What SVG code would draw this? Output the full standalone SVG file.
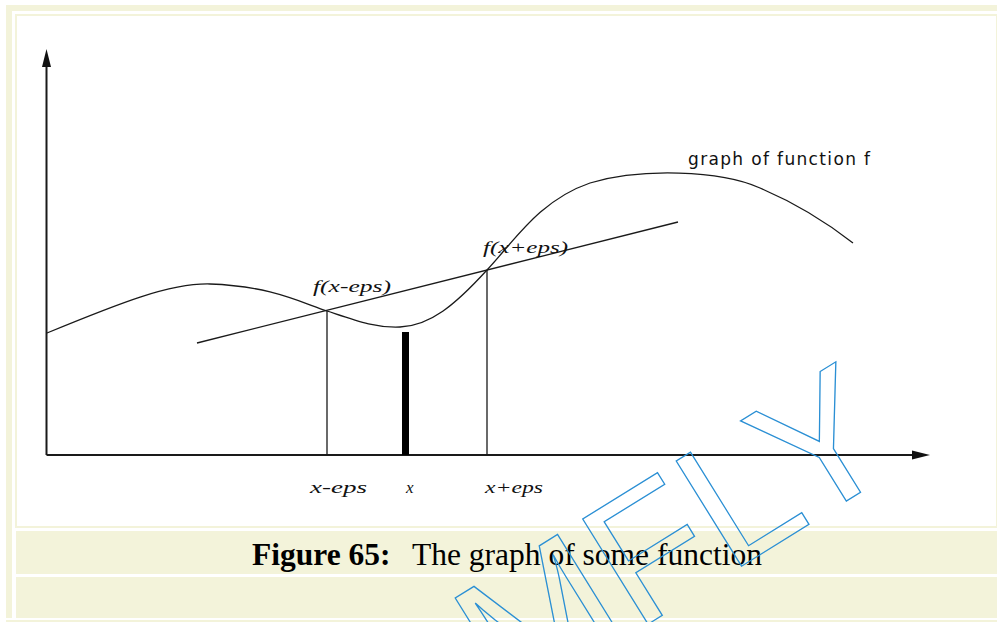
<svg xmlns="http://www.w3.org/2000/svg" width="997" height="622" viewBox="0 0 997 622">
<style>
.bg{fill:#F3F3DA}
.ln{stroke:#1a1a1a;fill:none;stroke-width:1.3}
.ax{stroke:#1a1a1a;fill:none;stroke-width:2}
.lbl{font-family:"Liberation Serif",serif;font-style:italic;font-size:17px;fill:#111}
.cap{font-family:"Liberation Serif",serif;font-size:31.5px;fill:#000}
.wm{font-family:"Liberation Sans",Arial,sans-serif;font-size:180px;fill:none;stroke:#2a8fd4;stroke-width:1.3}
</style>
<rect width="997" height="622" fill="#fff"/>
<g id="frame">
<rect class="bg" x="6" y="5" width="991" height="613"/>
<rect x="12" y="11" width="985" height="607" fill="#fff"/>
<rect class="bg" x="15" y="14" width="982" height="514"/>
<rect x="17" y="16" width="979" height="510" fill="#fff"/>
<rect class="bg" x="16" y="531" width="981" height="43"/>
<rect class="bg" x="16" y="577" width="981" height="41"/>
<rect class="bg" x="6" y="620" width="991" height="2"/>
</g>
<g id="axes">
<line class="ax" x1="46.5" y1="64" x2="46.5" y2="455"/>
<polygon points="46.5,49 51,67 42,67" fill="#111"/>
<line class="ax" x1="46.5" y1="455" x2="914" y2="455"/>
<polygon points="930,455 912,450.5 912,459.5" fill="#111"/>
</g>
<g id="curve">
<path class="ln" d="M47,333 C120,303 170,283 210,284 C270,286 300,302 327,311 C357,321 375,328 400,327 C430,326 455,305 487,270 C515,240 540,200 590,183 C640,168 720,170 760,188 C800,205 830,225 853,243"/>
</g>
<g id="connectors">
<line class="ln" x1="197" y1="343" x2="678" y2="222"/>
<line class="ln" x1="327" y1="311" x2="327" y2="455"/>
<line class="ln" x1="487" y1="270" x2="487" y2="455"/>
<rect x="402" y="332" width="7" height="123" fill="#000"/>
</g>
<g id="labels">
<text class="lbl" x="313" y="292" textLength="78" lengthAdjust="spacingAndGlyphs">f(x-eps)</text>
<text class="lbl" x="483" y="253" textLength="85" lengthAdjust="spacingAndGlyphs">f(x+eps)</text>
<text class="lbl" x="310" y="493" textLength="57" lengthAdjust="spacingAndGlyphs">x-eps</text>
<text class="lbl" x="406" y="493">x</text>
<text class="lbl" x="485" y="493" textLength="58" lengthAdjust="spacingAndGlyphs">x+eps</text>
<text x="688" y="165" font-family="DejaVu Sans, sans-serif" font-size="17" fill="#111" textLength="182">graph of function f</text>
</g>
<g id="caption">
<text class="cap" x="252" y="565" font-weight="bold">Figure 65:</text>
<text class="cap" x="412" y="565">The graph of some function</text>
</g>
<g id="watermark">
<text class="wm" transform="translate(508,711) rotate(-31.8)">MFLY</text>
</g>
</svg>
